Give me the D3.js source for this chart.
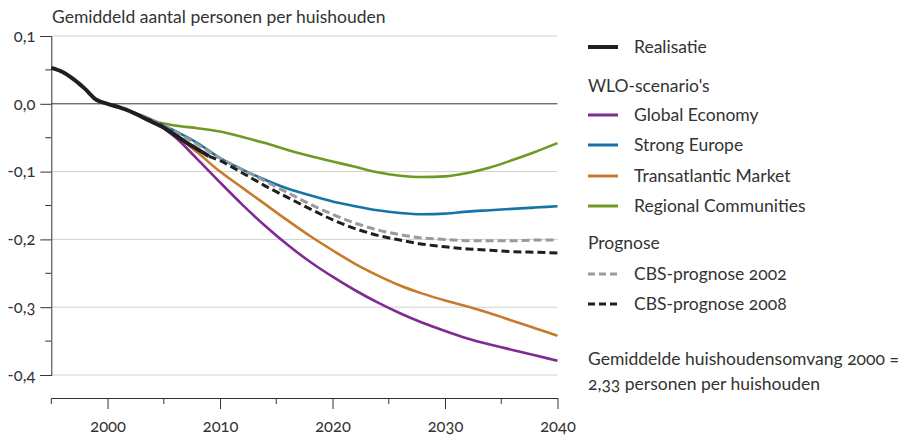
<!DOCTYPE html>
<html>
<head>
<meta charset="utf-8">
<script src="https://cdn.jsdelivr.net/npm/d3@7"></script>
<style>
  body { margin: 0; background: #fff; }
  text { font-family: Lato, "Open Sans", sans-serif; fill: #333; font-variant-numeric: oldstyle-nums; }
</style>
</head>
<body>
<div id="chart"></div>
<script>
// data (deviation from 2000 level, persons per household)
const realisatieYears = [1995, 1996, 1997, 1998, 1999, 2000, 2001, 2002, 2003, 2004, 2005, 2006, 2007, 2008, 2009];
const realisatie = [0.053, 0.047, 0.036, 0.022, 0.006, 0.0, -0.005, -0.011, -0.019, -0.027, -0.035, -0.046, -0.057, -0.067, -0.077];

const scenarioYears = [2002, 2004, 2006, 2008, 2010, 2012, 2014, 2016, 2018, 2020, 2022, 2024, 2026, 2028, 2030, 2032, 2034, 2036, 2038, 2040];
const globalEconomy = [-0.011, -0.026, -0.049, -0.082, -0.116, -0.149, -0.180, -0.208, -0.233, -0.255, -0.275, -0.293, -0.309, -0.323, -0.335, -0.346, -0.355, -0.363, -0.371, -0.379];
const strongEurope = [-0.011, -0.024, -0.040, -0.058, -0.080, -0.097, -0.112, -0.125, -0.135, -0.144, -0.151, -0.157, -0.161, -0.163, -0.162, -0.159, -0.157, -0.155, -0.153, -0.151];
const transatlanticMarket = [-0.011, -0.027, -0.046, -0.072, -0.100, -0.124, -0.148, -0.172, -0.195, -0.216, -0.236, -0.253, -0.268, -0.280, -0.290, -0.299, -0.309, -0.320, -0.331, -0.342];
const regionalCommunities = [-0.011, -0.025, -0.032, -0.036, -0.041, -0.049, -0.058, -0.068, -0.077, -0.085, -0.093, -0.101, -0.106, -0.108, -0.107, -0.102, -0.094, -0.083, -0.071, -0.058];

const cbs2002Years = [2002, 2004, 2006, 2008, 2010, 2012, 2014, 2016, 2018, 2020, 2022, 2024, 2026, 2028, 2030, 2032, 2034, 2036, 2038, 2040];
const cbs2002 = [-0.011, -0.024, -0.041, -0.060, -0.080, -0.097, -0.114, -0.131, -0.148, -0.163, -0.176, -0.186, -0.193, -0.198, -0.200, -0.202, -0.202, -0.202, -0.201, -0.201];
const cbs2008Years = [2009, 2010, 2012, 2014, 2016, 2018, 2020, 2022, 2024, 2026, 2028, 2030, 2032, 2034, 2036, 2038, 2040];
const cbs2008 = [-0.077, -0.084, -0.102, -0.121, -0.138, -0.155, -0.171, -0.184, -0.194, -0.201, -0.207, -0.211, -0.214, -0.216, -0.218, -0.219, -0.220];

const yTicks = [0.1, 0.0, -0.1, -0.2, -0.3, -0.4];
const xTicks = [2000, 2010, 2020, 2030, 2040];

const graph = {width: 908, height: 436};

graph.svg = d3.select("#chart")
    .append("svg")
    .attr("width", graph.width)
    .attr("height", graph.height);

const x = d3.scaleLinear().domain([1995, 2040]).range([51.3, 557.5]);
const y = d3.scaleLinear().domain([-0.4, 0.1]).range([375, 36]);

const fmt = d => d3.format(".1f")(d).replace(".", ",").replace("\u2212", "-");

// title
graph.svg.append("text")
    .attr("x", 52).attr("y", 23)
    .style("font-size", "17.5px")
    .text("Gemiddeld aantal personen per huishouden");

// gridlines
graph.svg.append("g").selectAll("line")
    .data(yTicks)
    .join("line")
    .attr("x1", x(1995)).attr("x2", x(2040))
    .attr("y1", d => y(d)).attr("y2", d => y(d))
    .attr("stroke", d => d === 0 ? "#333" : "#d0d0d0")
    .attr("stroke-width", 1);

// y axis
const yAxis = graph.svg.append("g")
    .attr("transform", `translate(${x(1995)},0)`)
    .call(d3.axisLeft(y).tickValues(yTicks).tickFormat(fmt).tickSize(11).tickPadding(5));
yAxis.select(".domain").attr("stroke", "#333");
yAxis.selectAll(".tick line").attr("stroke", "#333");
yAxis.selectAll("text").style("font-size", "16.5px").attr("fill", "#333");
yAxis.append("g").selectAll("line")
    .data([0.05, -0.05, -0.15, -0.25, -0.35])
    .join("line")
    .attr("x1", -6).attr("x2", 0)
    .attr("y1", d => y(d)).attr("y2", d => y(d))
    .attr("stroke", "#333");

// x axis
const xAxis = graph.svg.append("g")
    .attr("transform", "translate(0,398)")
    .call(d3.axisBottom(x).tickValues(xTicks).tickFormat(d3.format("d")).tickSize(11).tickSizeOuter(0).tickPadding(11));
xAxis.select(".domain").attr("stroke", "#333");
xAxis.selectAll(".tick line").attr("stroke", "#333");
xAxis.selectAll("text").style("font-size", "16.5px").attr("fill", "#333");
xAxis.append("g").selectAll("line")
    .data([1995, 2005, 2015, 2025, 2035])
    .join("line")
    .attr("x1", d => x(d)).attr("x2", d => x(d))
    .attr("y1", 0).attr("y2", 6)
    .attr("stroke", "#333");

// series
const series = [
    {name: "Regional Communities", years: scenarioYears, values: regionalCommunities, color: "#6f9a22", width: 2.6},
    {name: "Strong Europe", years: scenarioYears, values: strongEurope, color: "#1574a6", width: 2.6},
    {name: "Transatlantic Market", years: scenarioYears, values: transatlanticMarket, color: "#c67b2c", width: 2.6},
    {name: "Global Economy", years: scenarioYears, values: globalEconomy, color: "#7f2b93", width: 2.6},
    {name: "CBS-prognose 2002", years: cbs2002Years, values: cbs2002, color: "#9a9a9a", width: 3, dash: "8,4"},
    {name: "CBS-prognose 2008", years: cbs2008Years, values: cbs2008, color: "#1f1f1f", width: 3, dash: "8,4"},
    {name: "Realisatie", years: realisatieYears, values: realisatie, color: "#1f1f1f", width: 4}
];

const line = d3.line()
    .x(d => x(d[0]))
    .y(d => y(d[1]))
    .curve(d3.curveMonotoneX);

graph.svg.append("g").selectAll("path")
    .data(series)
    .join("path")
    .attr("d", s => line(s.years.map((yr, i) => [yr, s.values[i]])))
    .attr("fill", "none")
    .attr("stroke", s => s.color)
    .attr("stroke-width", s => s.width)
    .attr("stroke-dasharray", s => s.dash || null);

// legend
const legend = graph.svg.append("g").style("font-size", "17.5px");
const legendItems = [
    {label: "Realisatie", key: "Realisatie", y: 47},
    {label: "WLO-scenario's", y: 86},
    {label: "Global Economy", key: "Global Economy", y: 115},
    {label: "Strong Europe", key: "Strong Europe", y: 145},
    {label: "Transatlantic Market", key: "Transatlantic Market", y: 176},
    {label: "Regional Communities", key: "Regional Communities", y: 206},
    {label: "Prognose", y: 243},
    {label: "CBS-prognose 2002", key: "CBS-prognose 2002", y: 274},
    {label: "CBS-prognose 2008", key: "CBS-prognose 2008", y: 304},
    {label: "Gemiddelde huishoudensomvang 2000 =", y: 359},
    {label: "2,33 personen per huishouden", y: 384}
];

legendItems.forEach(item => {
    const s = series.find(d => d.name === item.key);
    if (s) {
        legend.append("line")
            .attr("x1", 588).attr("x2", 618)
            .attr("y1", item.y).attr("y2", item.y)
            .attr("stroke", s.color)
            .attr("stroke-width", s.dash ? 3 : (s.name === "Realisatie" ? 4 : 3))
            .attr("stroke-dasharray", s.dash ? "7,4" : null);
    }
    legend.append("text")
        .attr("x", s ? 634 : 588)
        .attr("y", item.y)
        .attr("dy", "0.35em")
        .text(item.label);
});
</script>
</body>
</html>
